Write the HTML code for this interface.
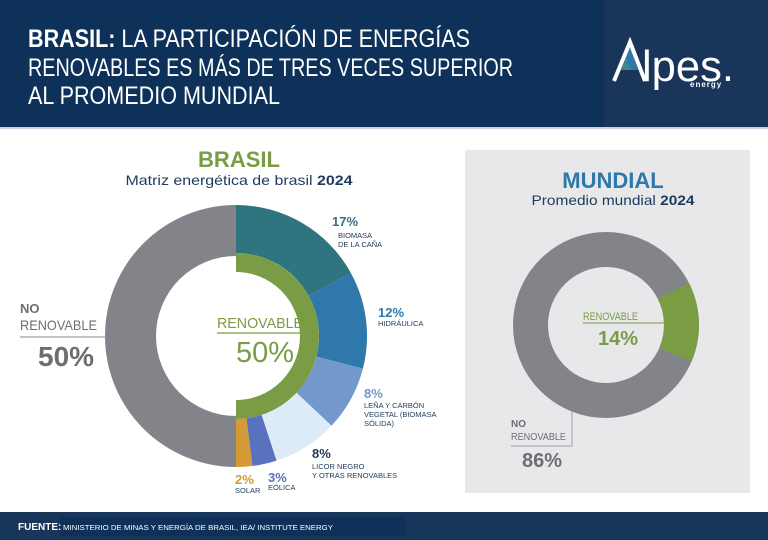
<!DOCTYPE html>
<html><head><meta charset="utf-8"><style>
html,body{margin:0;padding:0;background:#fff;}
svg{display:block;}
text{font-family:"Liberation Sans",sans-serif;}
</style></head><body>
<svg width="768" height="540" viewBox="0 0 768 540" xmlns="http://www.w3.org/2000/svg">
<rect x="0" y="0" width="768" height="127" fill="#0d3158"/>
<rect x="604" y="0" width="164" height="127" fill="#1a355a"/>
<rect x="0" y="127" width="768" height="2" fill="#c9d2dc"/>
<g fill="#fff" font-size="25">
<text x="28" y="47" textLength="442" lengthAdjust="spacingAndGlyphs"><tspan font-weight="bold">BRASIL:</tspan> LA PARTICIPACIÓN DE ENERGÍAS</text>
<text x="28" y="76" textLength="485" lengthAdjust="spacingAndGlyphs">RENOVABLES ES MÁS DE TRES VECES SUPERIOR</text>
<text x="28" y="104" textLength="252" lengthAdjust="spacingAndGlyphs">AL PROMEDIO MUNDIAL</text>
</g>
<!-- logo -->
<polygon points="624,61 630,46 638,70 628,70" fill="#2e78ab"/>
<polygon points="621,70 626,58 631,70" fill="#3a8a86"/>
<polyline points="614,81 630,42 645,81" fill="none" stroke="#fff" stroke-width="4"/>
<text x="642" y="81" fill="#fff" font-size="44" textLength="92" lengthAdjust="spacingAndGlyphs">lpes.</text>
<text x="690" y="87" fill="#fff" font-size="8" font-weight="bold" letter-spacing="1">energy</text>

<!-- BRASIL -->
<text x="239" y="167" text-anchor="middle" fill="#7a9c45" font-size="22" font-weight="bold">BRASIL</text>
<text x="239" y="185" text-anchor="middle" fill="#1e3a5c" font-size="14" textLength="227" lengthAdjust="spacingAndGlyphs">Matriz energética de brasil <tspan font-weight="bold">2024</tspan></text>

<path d="M236,205 A131,131 0 0 0 236,467 L236,416 A80,80 0 0 1 236,256 Z" fill="#838489"/>
<path d="M236,205 A131,131 0 0 1 350.8,272.9 L308.7,296 A83,83 0 0 0 236,253 Z" fill="#2e7580"/>
<path d="M350.8,272.9 A131,131 0 0 1 362.9,368.6 L316.4,356.6 A83,83 0 0 0 308.7,296 Z" fill="#2e78ab"/>
<path d="M362.9,368.6 A131,131 0 0 1 331.5,425.7 L296.5,392.8 A83,83 0 0 0 316.4,356.6 Z" fill="#7298cc"/>
<path d="M331.5,425.7 A131,131 0 0 1 276.5,460.6 L261.6,414.9 A83,83 0 0 0 296.5,392.8 Z" fill="#ddeaf7"/>
<path d="M276.5,460.6 A131,131 0 0 1 252.4,466 L246.4,418.3 A83,83 0 0 0 261.6,414.9 Z" fill="#5872bf"/>
<path d="M252.4,466 A131,131 0 0 1 236,467 L236,419 A83,83 0 0 0 246.4,418.3 Z" fill="#d39a35"/>
<path d="M236,262.5 A73.5,73.5 0 0 1 236,409.5" fill="none" stroke="#7a9c45" stroke-width="19"/>

<text x="217" y="328" fill="#7a9c45" font-size="15" textLength="86" lengthAdjust="spacingAndGlyphs">RENOVABLE</text>
<line x1="217" y1="333" x2="302" y2="333" stroke="#7a9c45" stroke-width="1.2"/>
<text x="236" y="362" fill="#7a9c45" font-size="29" textLength="58" lengthAdjust="spacingAndGlyphs">50%</text>

<text x="20" y="313" fill="#6d6e72" font-size="13" font-weight="bold">NO</text>
<text x="20" y="330" fill="#6d6e72" font-size="14" textLength="77" lengthAdjust="spacingAndGlyphs">RENOVABLE</text>
<line x1="20" y1="337" x2="106" y2="337" stroke="#a0a1a5" stroke-width="1.2"/>
<text x="38" y="366" fill="#6d6e72" font-size="28" font-weight="bold">50%</text>

<g font-size="7.5">
<text x="332" y="226" fill="#2e7580" font-size="13" font-weight="bold">17%</text>
<text x="338" y="238" fill="#1e3a5c">BIOMASA</text>
<text x="338" y="247" fill="#1e3a5c">DE LA CAÑA</text>
<text x="378" y="317" fill="#2e78ab" font-size="13" font-weight="bold">12%</text>
<text x="378" y="326" fill="#1e3a5c">HIDRÁULICA</text>
<text x="364" y="398" fill="#7298cc" font-size="13" font-weight="bold">8%</text>
<text x="364" y="408" fill="#1e3a5c">LEÑA Y CARBÓN</text>
<text x="364" y="417" fill="#1e3a5c">VEGETAL (BIOMASA</text>
<text x="364" y="426" fill="#1e3a5c">SÓLIDA)</text>
<text x="312" y="458" fill="#1e3a5c" font-size="13" font-weight="bold">8%</text>
<text x="312" y="469" fill="#1e3a5c">LICOR NEGRO</text>
<text x="312" y="478" fill="#1e3a5c">Y OTRAS RENOVABLES</text>
<text x="268" y="482" fill="#5872bf" font-size="13" font-weight="bold">3%</text>
<text x="268" y="490" fill="#1e3a5c">EÓLICA</text>
<text x="235" y="484" fill="#d39a35" font-size="13" font-weight="bold">2%</text>
<text x="235" y="493" fill="#1e3a5c">SOLAR</text>
</g>

<!-- MUNDIAL -->
<rect x="465" y="150" width="285" height="343" fill="#e8e8ea"/>
<text x="613" y="188" text-anchor="middle" fill="#2e78ab" font-size="22" font-weight="bold">MUNDIAL</text>
<text x="613" y="205" text-anchor="middle" fill="#1e3a5c" font-size="14" textLength="163" lengthAdjust="spacingAndGlyphs">Promedio mundial <tspan font-weight="bold">2024</tspan></text>
<circle cx="606" cy="325" r="75.5" fill="none" stroke="#838489" stroke-width="35"/>
<path d="M688.9,282.8 A93,93 0 0 1 691.6,361.3 L659.4,347.7 A58,58 0 0 0 657.7,298.7 Z" fill="#7a9c45"/>
<text x="583" y="320" fill="#7a9c45" font-size="11" textLength="55" lengthAdjust="spacingAndGlyphs">RENOVABLE</text>
<line x1="583" y1="323" x2="664" y2="323" stroke="#7a9c45" stroke-width="1"/>
<text x="598" y="345" fill="#7a9c45" font-size="20" font-weight="bold">14%</text>
<text x="511" y="427" fill="#6d6e72" font-size="10" font-weight="bold">NO</text>
<text x="511" y="440" fill="#6d6e72" font-size="10" textLength="55" lengthAdjust="spacingAndGlyphs">RENOVABLE</text>
<polyline points="572,411 572,446 511,446" fill="none" stroke="#a0a1a5" stroke-width="1"/>
<text x="522" y="467" fill="#6d6e72" font-size="20" font-weight="bold">86%</text>

<!-- footer -->
<rect x="0" y="512" width="768" height="28" fill="#17365a"/>
<rect x="60" y="517" width="346" height="19" fill="#0f3159"/>
<text x="18" y="530" fill="#fff" font-size="10" font-weight="bold">FUENTE:</text>
<text x="63" y="530" fill="#fff" font-size="7.5" textLength="270" lengthAdjust="spacingAndGlyphs">MINISTERIO DE MINAS Y ENERGÍA DE BRASIL, IEA/ INSTITUTE ENERGY</text>
</svg>
</body></html>
